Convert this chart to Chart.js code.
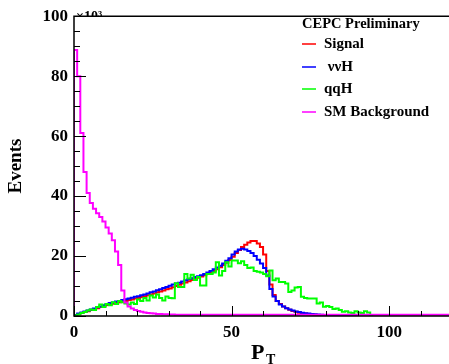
<!DOCTYPE html>
<html>
<head>
<meta charset="utf-8">
<script src="https://cdn.jsdelivr.net/npm/chart.js@4.4.0/dist/chart.umd.min.js"></script>
<style>
  html, body { margin: 0; padding: 0; background: #fff; overflow: hidden; }
</style>
</head>
<body>
<canvas id="chart1" width="449" height="364"></canvas>
<script>
// histogram contents, one value per 1-unit bin starting at P_T = 0 (in units of 10^3 events)
const signal = [
  0.3, 0.7, 1.0, 1.3, 1.6, 2.0, 2.3, 2.6, 3.0, 3.3,
  3.7, 3.9, 4.1, 4.3, 4.6, 4.8, 5.0, 5.3, 5.5, 5.8,
  6.0, 6.3, 6.6, 6.9, 7.2, 7.5, 7.9, 8.2, 8.5, 8.9,
  9.2, 9.6, 10.0, 10.4, 10.8, 11.2, 11.6, 12.0, 12.4, 12.8,
  13.2, 13.6, 14.0, 14.5, 15.0, 15.6, 16.3, 17.0, 17.8, 18.7,
  19.8, 21.0, 22.0, 23.0, 23.8, 24.5, 25.0, 25.0, 24.2, 23.0,
  20.5, 15.0, 10.5, 7.0, 5.0, 4.0, 3.2, 2.6, 2.1, 1.7,
  1.4, 1.1, 0.9, 0.8, 0.6, 0.5, 0.4, 0.35, 0.3, 0.25,
  0.2, 0.15, 0.12, 0.1, 0.08, 0.05, 0.04, 0.03, 0.02, 0
];
const vvH = [
  0.3, 0.8, 1.2, 1.5, 1.8, 2.2, 2.5, 2.9, 3.2, 3.6,
  4.0, 4.3, 4.5, 4.8, 5.0, 5.3, 5.6, 5.8, 6.1, 6.4,
  6.6, 6.9, 7.2, 7.5, 7.9, 8.2, 8.6, 8.9, 9.3, 9.7,
  10.1, 10.5, 10.8, 11.1, 11.5, 11.9, 12.3, 12.6, 13.0, 13.3,
  13.6, 14.0, 14.5, 15.0, 15.6, 16.2, 16.8, 17.5, 18.4, 19.3,
  20.5, 21.5, 22.2, 22.4, 22.2, 21.7, 21.0, 20.0, 18.8, 17.5,
  16.0, 13.5, 9.0, 6.5, 5.0, 3.8, 3.2, 2.6, 2.2, 1.8,
  1.5, 1.3, 1.1, 0.9, 0.8, 0.7, 0.6, 0.5, 0.4, 0.35,
  0.3, 0.25, 0.2, 0.15, 0.1, 0.08, 0.05, 0.04, 0.02, 0
];
const qqH = [
  0.2, 0.5, 1.0, 1.3, 1.8, 2.2, 2.0, 3.0, 3.8, 3.0,
  4.0, 3.6, 4.6, 4.0, 5.0, 4.6, 4.2, 3.8, 4.5, 4.0,
  5.5, 5.0, 6.0, 5.2, 6.8, 6.2, 7.2, 6.0, 5.2, 6.5,
  6.0, 5.9, 10.9, 9.7, 9.7, 14.0, 12.5, 13.8, 12.0, 13.0,
  10.2, 10.2, 14.0, 14.0, 14.5, 17.9, 13.5, 15.0, 17.9, 16.5,
  18.5, 18.5, 17.6, 18.3, 17.0, 16.0, 16.2, 15.0, 14.8, 14.5,
  14.0, 13.3, 15.2, 11.9, 12.5, 11.3, 11.3, 10.8, 8.0, 8.5,
  9.5, 9.7, 6.4, 6.0, 5.8, 5.8, 5.8, 4.2, 4.5, 3.1,
  3.3, 3.0, 2.3, 2.5, 2.0, 1.4, 1.6, 1.2, 1.0, 1.6,
  1.2, 1.0, 1.6, 1.2, 0
];
const smBackground = [
  88.7, 80.0, 61.0, 48.0, 41.0, 37.7, 35.8, 34.3, 33.0, 31.5,
  29.5, 27.5, 25.3, 21.5, 17.0, 8.5, 4.5, 3.2, 2.5, 2.0,
  1.7, 1.4, 1.2, 1.0, 0.9, 0.8, 0.7, 0.65, 0.6, 0.55,
  0.5, 0.5, 0.45, 0.45, 0.45, 0.4, 0.4, 0.4, 0.4, 0.4,
  0.4, 0.4, 0.4, 0.4, 0.4, 0.4, 0.4, 0.4, 0.4, 0.4,
  0.4, 0.4, 0.4, 0.4, 0.4, 0.4, 0.4, 0.4, 0.4, 0.4,
  0.4, 0.4, 0.4, 0.4, 0.4, 0.4, 0.4, 0.4, 0.4, 0.4,
  0.4, 0.4, 0.4, 0.4, 0.4, 0.4, 0.4, 0.4, 0.4, 0.4,
  0.4, 0.4, 0.4, 0.4, 0.4, 0.4, 0.4, 0.4, 0.4, 0.4,
  0.4, 0.4, 0.4, 0.4, 0.4, 0.4, 0.4, 0.4, 0.4, 0.4,
  0.4, 0.4, 0.4, 0.4, 0.4, 0.4, 0.4, 0.4, 0.4, 0.4,
  0.4, 0.4, 0.4, 0.4, 0.4, 0.4, 0.4, 0.4, 0.4, 0.4
];
const xTicks = [0, 50, 100];
const yTicks = [0, 20, 40, 60, 80, 100];
const legendLabels = ['Signal', ' \u03BD\u03BDH', 'qqH', 'SM Background'];

const serif = '"Liberation Serif", "DejaVu Serif", serif';

// bin contents -> step outline points (left edge of each bin)
function toSteps(values) {
  const pts = [{ x: 0, y: 0 }];
  values.forEach((v, i) => pts.push({ x: i, y: v }));
  pts.push({ x: values.length, y: values[values.length - 1] });
  return pts;
}

function histo(label, values, color, order) {
  return {
    label: label,
    data: toSteps(values),
    borderColor: color,
    borderWidth: 2,
    pointRadius: 0,
    stepped: 'before',
    fill: false,
    order: order
  };
}

const rootFrame = {
  id: 'rootFrame',
  afterDatasetsDraw(chart) {
    const { ctx, chartArea: a, scales: { x, y } } = chart;
    ctx.save();
    ctx.strokeStyle = '#000';
    ctx.lineWidth = 1;
    // inward ticks
    for (let v = 0; v <= 100; v += 5) {
      const py = Math.round(y.getPixelForValue(v)) + 0.5;
      const len = v % 20 === 0 ? 12 : 6;
      ctx.beginPath(); ctx.moveTo(a.left, py); ctx.lineTo(a.left + len, py); ctx.stroke();
    }
    for (let v = 0; v <= 119; v += 10) {
      const px = Math.round(x.getPixelForValue(v)) + 0.5;
      const len = v % 50 === 0 ? 10 : 5;
      ctx.beginPath(); ctx.moveTo(px, a.bottom); ctx.lineTo(px, a.bottom - len); ctx.stroke();
    }
    // frame
    ctx.lineWidth = 1.5;
    ctx.beginPath();
    ctx.moveTo(a.right, a.top); ctx.lineTo(a.left, a.top);
    ctx.lineTo(a.left, a.bottom); ctx.lineTo(a.right, a.bottom);
    ctx.stroke();

    // exponent label, mostly hidden above the frame
    ctx.save();
    ctx.beginPath(); ctx.rect(a.left, 8, 40, a.top - 8); ctx.clip();
    ctx.fillStyle = '#000';
    ctx.font = 'bold 14px ' + serif;
    ctx.textBaseline = 'alphabetic';
    ctx.fillText('\u00D710\u00B3', a.left + 2, 21);
    ctx.restore();

    // x axis title P_T
    ctx.fillStyle = '#000';
    ctx.textBaseline = 'alphabetic';
    ctx.font = 'bold 22px ' + serif;
    ctx.fillText('P', 251, 359);
    ctx.font = 'bold 14px ' + serif;
    ctx.fillText('T', 266, 364);

    // legend
    const lx = 302;
    ctx.font = 'bold 14.5px ' + serif;
    ctx.textBaseline = 'middle';
    ctx.fillText('CEPC Preliminary', lx, 24);
    const rows = [44, 67, 89, 112];
    chart.data.datasets.forEach((ds, i) => {
      ctx.strokeStyle = ds.borderColor;
      ctx.lineWidth = 1.5;
      ctx.beginPath(); ctx.moveTo(lx, rows[i]); ctx.lineTo(lx + 14, rows[i]); ctx.stroke();
      ctx.fillStyle = '#000';
      ctx.font = 'bold 15px ' + serif;
      ctx.fillText(ds.label, lx + 22, rows[i]);
    });
    ctx.restore();
  }
};

const ctx = document.getElementById('chart1').getContext('2d');
const chart1 = new Chart(ctx, {
  type: 'line',
  data: {
    datasets: [
      histo(legendLabels[0], signal, '#ff0000', 3),
      histo(legendLabels[1], vvH, '#0000ff', 2),
      histo(legendLabels[2], qqH, '#00ff00', 1),
      histo(legendLabels[3], smBackground, '#ff00ff', 0)
    ]
  },
  options: {
    responsive: false,
    animation: false,
    devicePixelRatio: 1,
    layout: { padding: { top: 13, right: 0, left: 0, bottom: 0 } },
    scales: {
      x: {
        type: 'linear',
        min: 0,
        max: 119,
        afterBuildTicks: s => { s.ticks = xTicks.map(v => ({ value: v })); },
        afterFit: s => { s.height = 48; },
        grid: { display: false, drawTicks: false },
        border: { display: false },
        ticks: {
          padding: 6,
          maxRotation: 0,
          color: '#000',
          font: { family: serif, size: 17, weight: 'bold' }
        }
      },
      y: {
        min: 0,
        max: 100,
        afterBuildTicks: s => { s.ticks = yTicks.map(v => ({ value: v })); },
        afterFit: s => { s.width = 74; },
        grid: { display: false, drawTicks: false },
        border: { display: false },
        ticks: {
          padding: 6,
          color: '#000',
          font: { family: serif, size: 17, weight: 'bold' }
        },
        title: {
          display: true,
          text: 'Events',
          color: '#000',
          padding: { top: 5, bottom: 0 },
          font: { family: serif, size: 19, weight: 'bold' }
        }
      }
    },
    plugins: {
      legend: { display: false },
      tooltip: { enabled: false }
    }
  },
  plugins: [rootFrame]
});
</script>
</body>
</html>
